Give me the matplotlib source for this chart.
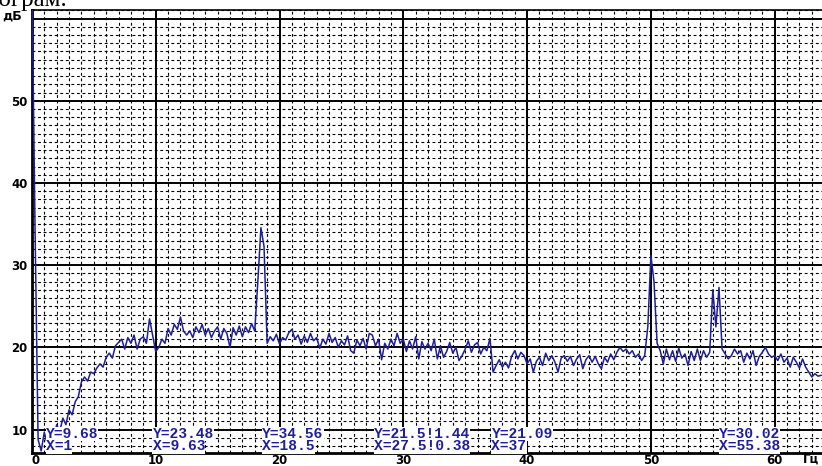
import numpy as np
import matplotlib
matplotlib.use("Agg")
import matplotlib.pyplot as plt

# ---------------- data ----------------
freq_step = 0.25  # Hz between spectrum samples
level = [
    65.0, 35.0, 8.8, 7.4,       # 0 Hz
    9.68, 8.2, 9.6, 8.6,        # 1
    10.6, 9.8, 11.4, 10.6,      # 2
    12.4, 11.8, 13.4, 14.0,     # 3
    15.8, 16.4, 15.9, 17.0,     # 4
    16.8, 17.5, 18.0, 17.6,     # 5
    18.8, 19.3, 18.7, 20.2,     # 6
    20.6, 21.0, 19.8, 21.2,     # 7
    20.5, 21.5, 19.8, 21.0,     # 8
    21.3, 20.5, 23.48, 21.5,    # 9
    19.5, 20.0, 21.0, 20.5,     # 10
    22.3, 21.5, 22.8, 22.2,     # 11
    23.7, 22.0, 21.5, 22.0,     # 12
    21.2, 22.5, 21.8, 22.8,     # 13
    21.5, 22.3, 21.2, 22.0,     # 14
    22.5, 21.0, 22.3, 21.7,     # 15
    20.0, 22.4, 21.5, 22.6,     # 16
    21.3, 22.5, 21.8, 22.9,     # 17
    22.0, 28.0, 34.56, 32.3,    # 18
    20.5, 21.3, 20.8, 21.6,     # 19
    20.4, 21.2, 20.9, 21.8,     # 20
    22.2, 21.0, 21.5, 20.4,     # 21
    21.4, 20.6, 21.7, 20.8,     # 22
    21.2, 19.9, 21.0, 20.4,     # 23
    21.7, 20.6, 21.2, 20.0,     # 24
    20.8, 20.3, 21.4, 19.6,     # 25
    19.3, 20.9, 20.2, 21.1,     # 26
    19.8, 21.7, 21.5, 20.2,     # 27
    21.0, 18.5, 20.5, 19.8,     # 28
    21.0, 20.2, 21.7, 20.5,     # 29
    21.0, 19.5, 20.8, 19.8,     # 30
    21.3, 18.6, 20.7, 19.8,     # 31
    20.5, 19.6, 21.0, 18.6,     # 32
    20.2, 18.8, 19.5, 20.6,     # 33
    19.3, 20.0, 18.4, 19.0,     # 34
    19.8, 20.8, 19.4, 20.3,     # 35
    20.6, 19.2, 20.0, 19.6,     # 36
    21.09, 17.0, 17.8, 18.5,    # 37
    17.6, 18.2, 17.5, 18.9,     # 38
    19.6, 18.6, 19.4, 19.0,     # 39
    18.0, 18.6, 17.0, 18.3,     # 40
    18.8, 17.8, 19.3, 18.4,     # 41
    19.0, 18.2, 17.0, 18.7,     # 42
    19.0, 18.3, 18.9, 17.8,     # 43
    18.6, 19.1, 17.4, 18.5,     # 44
    19.0, 18.2, 18.9, 18.0,     # 45
    17.4, 18.8, 18.2, 19.2,     # 46
    18.5, 19.4, 20.0, 19.5,     # 47
    19.8, 19.2, 19.6, 18.8,     # 48
    19.2, 18.4, 19.0, 22.5,     # 49
    31.2, 28.0, 20.5, 19.6,     # 50
    18.0, 19.8, 18.5, 19.6,     # 51
    18.3, 19.9, 18.7, 19.2,     # 52
    17.8, 19.5, 18.4, 19.8,     # 53
    18.4, 19.6, 18.8, 19.4,     # 54
    27.0, 22.5, 27.3, 19.8,     # 55
    19.2, 18.6, 19.0, 19.8,     # 56
    19.2, 19.6, 18.2, 19.3,     # 57
    18.6, 19.6, 17.8, 18.9,     # 58
    19.4, 20.0, 19.2, 18.8,     # 59
    19.0, 18.4, 19.2, 18.2,     # 60
    18.7, 17.6, 18.8, 18.2,     # 61
    17.5, 18.6, 17.6, 17.0,     # 62
    16.4, 16.8, 16.5, 16.6,     # 63
]
freq = np.arange(len(level)) * freq_step

x_ticks = [0, 10, 20, 30, 40, 50, 60]
x_tick_labels = ["0", "10", "20", "30", "40", "50", "60"]
y_ticks = [10, 20, 30, 40, 50, 60]
y_tick_labels = ["10", "20", "30", "40", "50", ""]

marker_freq = [1, 9.63, 18.5, 27.5, 37, 55.38]
marker_y_text = ["Y=9.68", "Y=23.48", "Y=34.56", "Y=21.5!1.44", "Y=21.09", "Y=30.02"]
marker_x_text = ["X=1", "X=9.63", "X=18.5", "X=27.5!0.38", "X=37", "X=55.38"]

y_unit = "дБ"
x_unit = "Гц"
page_text = "нограм."

# ---------------- figure ----------------
W, H = 822, 466
fig = plt.figure(figsize=(W / 100, H / 100), dpi=100)
ax_left, ax_right, ax_top, ax_bottom = 31.9, 822.0, 10.0, 453.0
ax = fig.add_axes([ax_left / W, 1 - ax_bottom / H,
                   (ax_right - ax_left) / W, (ax_bottom - ax_top) / H])

px_per_x = 12.38
px_per_y = 8.22
y10_px = 429.6
ax.set_xlim(0, (ax_right - ax_left) / px_per_x)
ax.set_ylim(10 - (ax_bottom - y10_px) / px_per_y, 10 + (y10_px - ax_top) / px_per_y)

# grid
ax.set_xticks(x_ticks)
ax.set_xticklabels(x_tick_labels)
ax.set_yticks(y_ticks)
ax.set_yticklabels(y_tick_labels)
ax.set_xticks(np.arange(0, 64, 1), minor=True)
ax.set_yticks(np.arange(8, 62, 1), minor=True)
ax.grid(which="minor", color="black", linestyle=(0, (2.6, 2.4)), linewidth=0.8)
ax.grid(which="major", color="black", linestyle="-", linewidth=1.4)
ax.set_axisbelow(True)

for side in ["left", "bottom"]:
    ax.spines[side].set_linewidth(2.0)
ax.spines["top"].set_linewidth(1.2)
ax.spines["right"].set_visible(False)

ax.tick_params(which="both", length=0)
ax.tick_params(axis="y", pad=3)
ax.tick_params(axis="x", pad=0.8)
for lab in ax.get_xticklabels() + ax.get_yticklabels():
    lab.set_fontweight("bold")
    lab.set_fontsize(8.5)
    lab.set_fontfamily("DejaVu Sans")
ax.get_xticklabels()[0].set_horizontalalignment("left")

# spectrum
blue = "#1e1e9a"
ax.plot(freq, level, color=blue, linewidth=1.1, zorder=3)

# markers' readouts
for f, ty, tx in zip(marker_freq, marker_y_text, marker_x_text):
    for txt, yv in ((ty, 9.45), (tx, 7.95)):
        ax.annotate(txt, xy=(f, yv), xytext=(1.5, 0), textcoords="offset pixels",
                    ha="left", va="center", color=blue,
                    fontsize=10.5, fontweight="bold", family="Liberation Mono",
                    bbox=dict(facecolor="white", edgecolor="none", pad=0.1),
                    zorder=4, annotation_clip=False)

# units
fig.text(2 / W, 1 - 16 / H, y_unit, ha="left", va="center",
         fontsize=9, fontweight="bold", family="DejaVu Sans")
fig.text(803 / W, 1 - 459 / H, x_unit, ha="left", va="center",
         fontsize=8.5, fontweight="bold", family="DejaVu Sans")

# clipped text from the scanned page above
fig.text(-14 / W, 1 - 6 / H, page_text, ha="left", va="baseline",
         fontsize=18, family="Liberation Serif")

fig.savefig("out.png", dpi=100)
